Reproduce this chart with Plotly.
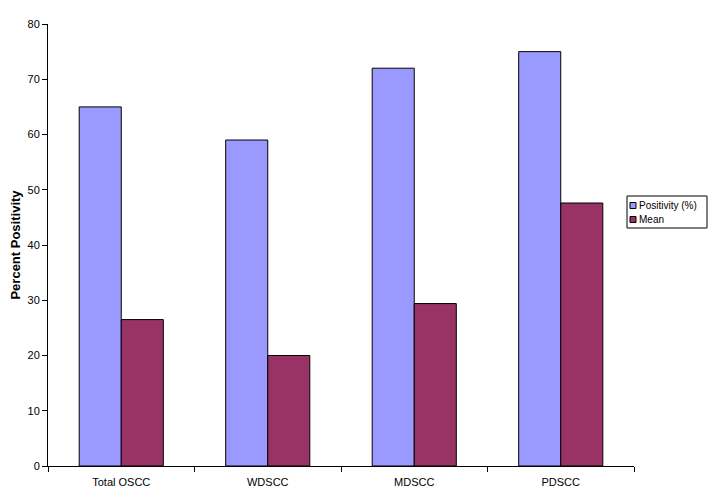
import plotly.graph_objects as go

categories = ["Total OSCC", "WDSCC", "MDSCC", "PDSCC"]
positivity = [65, 59, 72, 75]
mean_vals = [26.5, 20, 29.4, 47.6]
y_ticks = [0, 10, 20, 30, 40, 50, 60, 70, 80]
series_names = ["Positivity (%)", "Mean"]
series_colors = ["#9999FF", "#993366"]

fig = go.Figure()
for name, vals, col in zip(series_names, [positivity, mean_vals], series_colors):
    fig.add_trace(go.Bar(x=categories, y=vals, name=name,
                         marker=dict(color=col, line=dict(color="black", width=1))))

L, R, T, B = 48, 83, 24, 37
W, H = 717, 503
pw, ph = W - L - R, H - T - B

def px(x):
    return (x - L) / pw

def py(y):
    return (H - B - y) / ph

shapes = [dict(type="rect", xref="paper", yref="paper",
               x0=px(627), x1=px(707), y0=py(228), y1=py(196),
               line=dict(color="black", width=1), fillcolor="white")]
annotations = []
for i, (name, col) in enumerate(zip(series_names, series_colors)):
    yc = 205.5 + 14 * i
    shapes.append(dict(type="rect", xref="paper", yref="paper",
                       x0=px(630), x1=px(636), y0=py(yc + 3), y1=py(yc - 3),
                       line=dict(color="black", width=1), fillcolor=col))
    annotations.append(dict(text=name, xref="paper", yref="paper", x=px(637), y=py(yc),
                            xanchor="left", yanchor="middle", showarrow=False,
                            font=dict(size=10, color="black")))

fig.update_layout(
    width=W, height=H,
    margin=dict(l=L, r=R, t=T, b=B, autoexpand=False),
    plot_bgcolor="white", paper_bgcolor="white",
    barmode="group", bargap=0.426, bargroupgap=0,
    font=dict(family="Arial, Liberation Sans", size=11, color="black"),
    showlegend=False,
    shapes=shapes, annotations=annotations,
)
fig.update_xaxes(showline=True, linecolor="black", linewidth=1,
                 ticks="outside", tickson="boundaries", ticklen=5, tickcolor="black",
                 showgrid=False, tickfont=dict(size=11), ticklabelstandoff=6)
fig.update_yaxes(range=[0, 80], tickvals=y_ticks, showline=True, linecolor="black", linewidth=1,
                 ticks="outside", ticklen=5, tickcolor="black", showgrid=False, zeroline=False,
                 title=dict(text="<b>Percent Positivity</b>", font=dict(size=13), standoff=3),
                 tickfont=dict(size=11))

fig.write_html("out.html")
